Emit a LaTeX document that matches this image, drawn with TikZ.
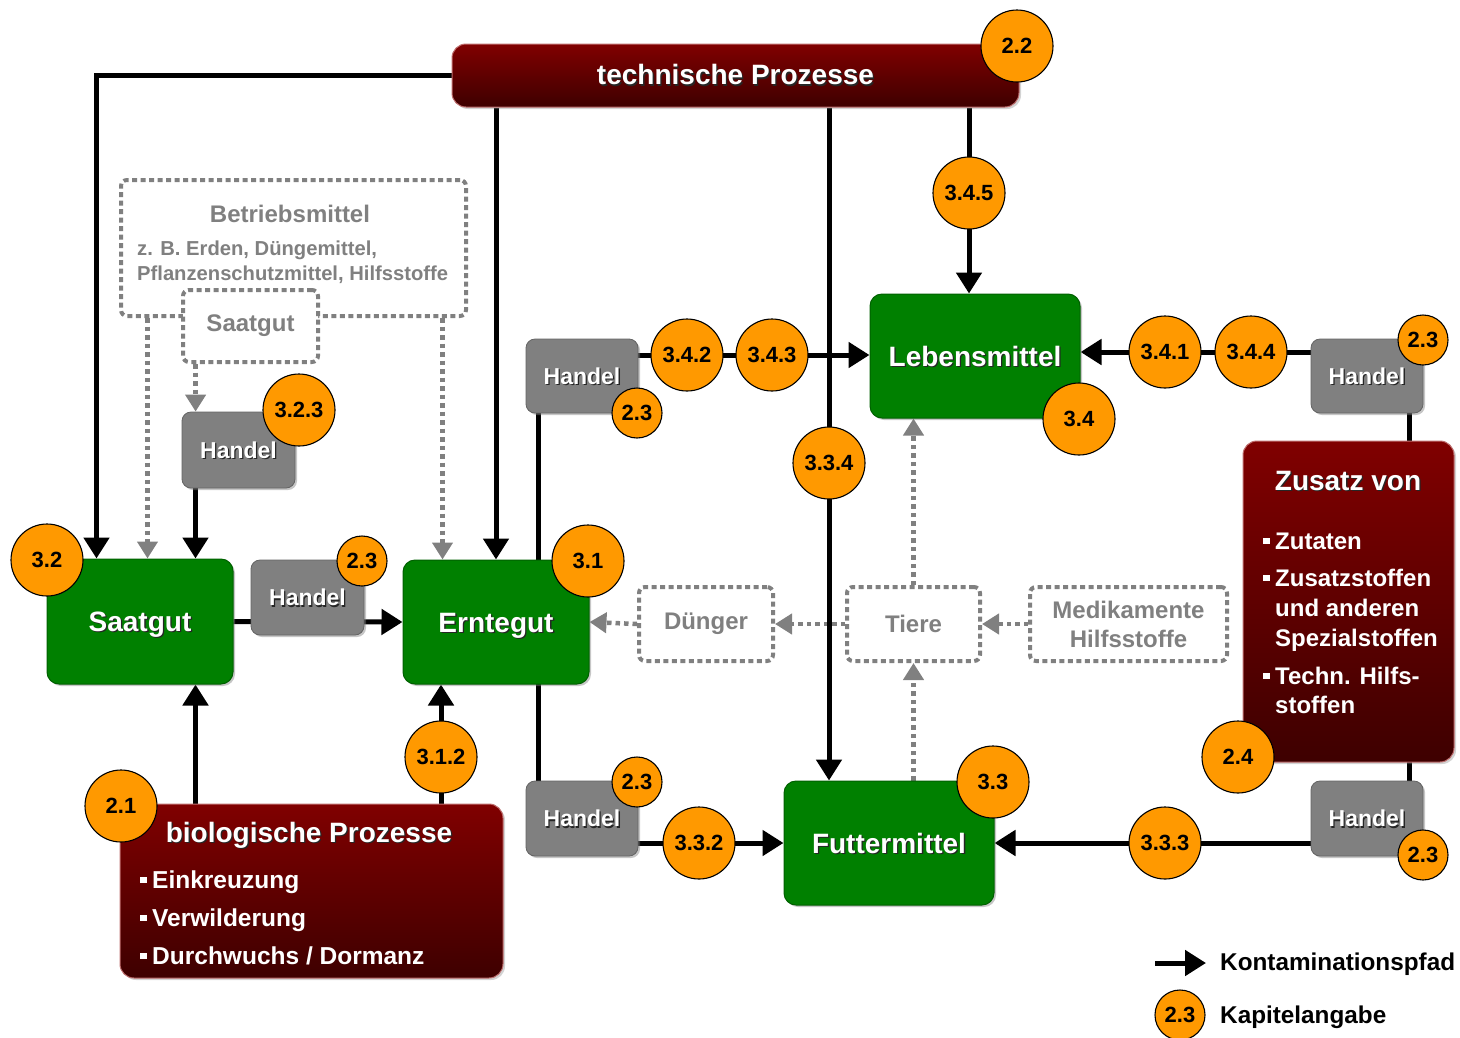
\documentclass[tikz,border=0pt]{standalone}
\usepackage{fontspec}
\setmainfont{Liberation Sans}
\usetikzlibrary{arrows.meta,shadows,calc}
\definecolor{grn}{RGB}{0,128,0}
\definecolor{grnd}{RGB}{0,96,0}
\definecolor{hgray}{RGB}{128,128,128}
\definecolor{hgrayd}{RGB}{100,100,100}
\definecolor{redtop}{RGB}{128,0,0}
\definecolor{redbot}{RGB}{62,0,0}
\definecolor{redrim}{RGB}{190,110,110}
\definecolor{badgeor}{RGB}{255,153,0}
\definecolor{dgray}{RGB}{128,128,128}
\pgfdeclarelayer{bg}
\pgfsetlayers{bg,main}
\newcommand\shtx[1]{\leavevmode\rlap{\kern1.3pt\raisebox{-1.3pt}{\color{black!85}#1}}#1}
\newcommand\sqb{\raisebox{5pt}{\rule{6.5pt}{6.5pt}}\hspace{5.5pt}}
\tikzset{
  greenbox/.style={fill=grn, draw=grnd, line width=1pt, rounded corners=12pt, inner sep=0pt,
    drop shadow={shadow xshift=2pt, shadow yshift=-2pt, opacity=0.45},
    text=white, font=\fontsize{28}{32}\selectfont\bfseries, text height=20pt, text depth=0pt},
  handelbox/.style={fill=hgray, draw=hgrayd, line width=0.8pt, rounded corners=9pt, inner sep=0pt,
    drop shadow={shadow xshift=2pt, shadow yshift=-2pt, opacity=0.45},
    text=white, font=\fontsize{23}{27}\selectfont\bfseries, text height=16.5pt, text depth=0pt},
  redbox/.style={top color=redtop, bottom color=redbot, draw=redrim, line width=1pt, rounded corners=14pt, inner sep=0pt,
    drop shadow={shadow xshift=2pt, shadow yshift=-2pt, opacity=0.35},
    text=white, font=\fontsize{28}{32}\selectfont\bfseries},
  dotbox/.style={fill=white, draw=dgray, line width=4pt, dash pattern=on 5pt off 3.5pt, rounded corners=6pt, inner sep=0pt,
    text=dgray, font=\fontsize{24}{29}\selectfont\bfseries, align=center},
  badge/.style={circle, fill=badgeor, draw=black, line width=1.1pt, inner sep=0pt, minimum size=72pt,
    font=\fontsize{22}{24}\selectfont\bfseries},
  sbadge/.style={badge, minimum size=50pt},
  arr/.style={line width=5pt, draw=black, -{Triangle[length=21pt,width=25pt]}},
  plain/.style={line width=5pt, draw=black},
  garr/.style={line width=4.5pt, draw=dgray, dash pattern=on 4.5pt off 4pt, -{Triangle[length=17pt,width=20pt]}},
  wtxt/.style={text=white, inner sep=0pt},
}
\begin{document}
\begin{tikzpicture}[x=1pt,y=-1pt]
\useasboundingbox (0,0) rectangle (1460,1037);

% ---------- boxes ----------
\node[redbox, minimum width=567pt, minimum height=63pt] (techn) at (735.5,75.5) {\shtx{technische Prozesse}};

\node[dotbox, minimum width=345pt, minimum height=136pt] (betrieb) at (293.5,248) {};
\node[text=dgray, font=\fontsize{24}{28}\selectfont\bfseries, anchor=base] (betriebT) at (290,222) {Betriebsmittel};
\node[text=dgray, font=\fontsize{20.2}{24}\selectfont\bfseries, anchor=base west, inner sep=0pt] (betriebA) at (137,255) {z. B. Erden, Düngemittel,};
\node[text=dgray, font=\fontsize{20.2}{24}\selectfont\bfseries, anchor=base west, inner sep=0pt] (betriebB) at (137,280) {Pflanzenschutzmittel, Hilfsstoffe};
\node[dotbox, minimum width=135pt, minimum height=72pt] (saat2) at (250.5,326) {Saatgut};

\node[handelbox, minimum width=113pt, minimum height=76pt] (h323) at (238.5,450) {\shtx{Handel}};
\node[greenbox, minimum width=186pt, minimum height=125pt] (saatgut) at (140,621.5) {\shtx{Saatgut}};
\node[handelbox, minimum width=113pt, minimum height=75pt] (hS) at (307.5,597.5) {\shtx{Handel}};
\node[greenbox, minimum width=186pt, minimum height=124pt] (ernte) at (496,622) {\shtx{Erntegut}};

\node[redbox, minimum width=383pt, minimum height=174pt] (bio) at (311.5,891) {};
\node[wtxt, font=\fontsize{28}{32}\selectfont\bfseries, anchor=base] (bioT) at (309,842) {\shtx{biologische Prozesse}};
\node[wtxt, font=\fontsize{24.5}{28}\selectfont\bfseries, anchor=base west] (bio1) at (140,888) {\sqb Einkreuzung};
\node[wtxt, font=\fontsize{24.5}{28}\selectfont\bfseries, anchor=base west] (bio2) at (140,926) {\sqb Verwilderung};
\node[wtxt, font=\fontsize{24.5}{28}\selectfont\bfseries, anchor=base west] (bio3) at (140,964) {\sqb Durchwuchs / Dormanz};

\node[handelbox, minimum width=112pt, minimum height=74pt] (hU) at (582,376) {\shtx{Handel}};
\node[handelbox, minimum width=112pt, minimum height=75pt] (hL) at (582,818.5) {\shtx{Handel}};
\node[greenbox, minimum width=210pt, minimum height=124pt] (lebens) at (975,356) {\shtx{Lebensmittel}};
\node[greenbox, minimum width=210pt, minimum height=124pt] (futter) at (889,843) {\shtx{Futtermittel}};

\node[dotbox, minimum width=134pt, minimum height=74pt] (duenger) at (706,624) {Dünger};
\node[dotbox, minimum width=133pt, minimum height=74pt] (tiere) at (913.5,624) {Tiere};
\node[dotbox, minimum width=197pt, minimum height=74pt] (medi) at (1128.5,624) {Medikamente\\Hilfsstoffe};

\node[handelbox, minimum width=112pt, minimum height=74pt] (hR1) at (1367,376) {\shtx{Handel}};
\node[redbox, minimum width=211pt, minimum height=321pt] (zusatz) at (1348.5,601.5) {};
\node[wtxt, font=\fontsize{28}{32}\selectfont\bfseries, anchor=base] (zusT) at (1348,490) {\shtx{Zusatz von}};
\node[wtxt, font=\fontsize{24}{28}\selectfont\bfseries, anchor=base west] (zus1) at (1263,549) {\sqb Zutaten};
\node[wtxt, font=\fontsize{24}{28}\selectfont\bfseries, anchor=base west] (zus2) at (1263,586) {\sqb Zusatzstoffen};
\node[wtxt, font=\fontsize{24}{28}\selectfont\bfseries, anchor=base west] (zus3) at (1275,616) {und anderen};
\node[wtxt, font=\fontsize{24}{28}\selectfont\bfseries, anchor=base west] (zus4) at (1275,646) {Spezialstoffen};
\node[wtxt, font=\fontsize{24}{28}\selectfont\bfseries, anchor=base west] (zus5) at (1263,684) {\sqb Techn. Hilfs-};
\node[wtxt, font=\fontsize{24}{28}\selectfont\bfseries, anchor=base west] (zus6) at (1275,713) {stoffen};
\node[handelbox, minimum width=112pt, minimum height=75pt] (hR2) at (1367,818.5) {\shtx{Handel}};

% ---------- badges ----------
\node[badge] (b22) at (1017,46) {2.2};
\node[badge] (b345) at (969,193) {3.4.5};
\node[badge] (b323) at (299,410) {3.2.3};
\node[badge] (b32) at (47,560) {3.2};
\node[sbadge] (bS23) at (362,561) {2.3};
\node[badge] (b31) at (588,561) {3.1};
\node[badge] (b312) at (441,757) {3.1.2};
\node[badge] (b21) at (121,806) {2.1};
\node[sbadge] (bU23) at (637,413) {2.3};
\node[badge] (b342) at (687,355) {3.4.2};
\node[badge] (b343) at (772,355) {3.4.3};
\node[badge] (b334) at (829,463) {3.3.4};
\node[badge] (b34) at (1079,419) {3.4};
\node[badge] (b341) at (1165,352) {3.4.1};
\node[badge] (b344) at (1251,352) {3.4.4};
\node[sbadge] (bR23a) at (1423,340) {2.3};
\node[badge] (b24) at (1238,757) {2.4};
\node[sbadge] (bR23b) at (1423,855) {2.3};
\node[badge] (b333) at (1165,843) {3.3.3};
\node[badge] (b33) at (993,782) {3.3};
\node[badge] (b332) at (699,843) {3.3.2};
\node[sbadge] (bL23) at (637,782) {2.3};

% ---------- legend ----------
\coordinate (legA) at (1155,963);
\coordinate (legB) at (1206,963);
\node[font=\fontsize{24.3}{28}\selectfont\bfseries, anchor=west, inner sep=0pt] (legT1) at (1220,964) {Kontaminationspfad};
\node[sbadge] (legBadge) at (1180,1015) {2.3};
\node[font=\fontsize{24.3}{28}\selectfont\bfseries, anchor=west, inner sep=0pt] (legT2) at (1220,1017) {Kapitelangabe};
\draw[arr] (legA) -- (legB);

% ---------- connectors ----------
\begin{pgfonlayer}{bg}
  % gray dotted paths
  \draw[garr] (betrieb.south -| {$(saatgut.north west)+(101,0)$}) -- ($(saatgut.north west)+(101,0)$);
  \draw[garr] (betrieb.south -| {$(ernte.north west)+(40,0)$}) -- ($(ernte.north west)+(40,0)$);
  \draw[garr] (saat2.south -| {$(h323.north west)+(14,0)$}) -- ($(h323.north west)+(14,0)$);
  \draw[garr] (tiere.west) -- (duenger.east);
  \draw[garr] (duenger.west) -- (ernte.east);
  \draw[garr] (medi.west) -- (tiere.east);
  \draw[garr] (futter.north -| tiere.south) -- (tiere.south);
  \draw[garr] (tiere.north) -- (lebens.south -| tiere.north);
  % black paths
  \draw[arr] (techn.west) -| ($(saatgut.north west)+(50,0)$);
  \draw[arr] (techn.south -| ernte.north) -- (ernte.north);
  \draw[arr] (techn.south -| b334.center) -- (futter.north -| b334.center);
  \draw[arr] (techn.south -| b345.center) -- (lebens.north -| b345.center);
  \draw[arr] (h323.south -| {$(saatgut.north west)+(149,0)$}) -- ($(saatgut.north west)+(149,0)$);
  \draw[arr] (saatgut.east) -- (ernte.west);
  \draw[arr] (bio.north -| {$(saatgut.south west)+(149,0)$}) -- ($(saatgut.south west)+(149,0)$);
  \draw[arr] (bio.north -| b312.center) -- (ernte.south -| b312.center);
  \draw[plain] ($(hU.south west)+(13,0)$) -- (hL.north -| {$(hU.south west)+(13,0)$});
  \draw[arr] ($(lebens.west -| hU.center)+(0,-1)$) -- ($(lebens.west)+(0,-1)$);
  \draw[arr] ($(lebens.east -| hR1.center)+(0,-4)$) -- ($(lebens.east)+(0,-4)$);
  \draw[plain] ($(hR1.south west)+(99,0)$) -- (hR2.north -| {$(hR1.south west)+(99,0)$});
  \draw[arr] (futter.west -| hL.center) -- (futter.west);
  \draw[arr] (futter.east -| hR2.center) -- (futter.east);
\end{pgfonlayer}
\end{tikzpicture}
\end{document}
